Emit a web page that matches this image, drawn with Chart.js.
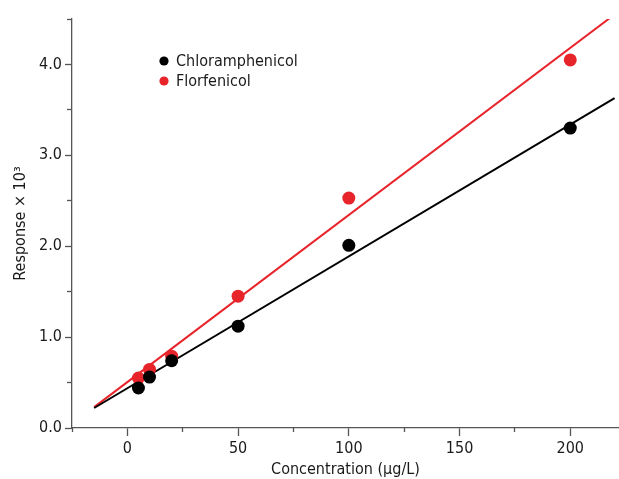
<!DOCTYPE html>
<html>
<head>
<meta charset="utf-8">
<script src="https://cdn.jsdelivr.net/npm/chart.js@4"></script>
<style>
  html, body { margin: 0; padding: 0; background: #fff; }
  #wrap { position: relative; width: 619px; height: 479px; }
</style>
</head>
<body>
<div id="wrap"><canvas id="myChart" width="619" height="479"></canvas></div>
<script>
// concentraciones (µg/L)
var concentrations = [5, 10, 20, 50, 100, 200];
// respuestas (x 10^3)
var chloramphenicol = [0.44, 0.56, 0.74, 1.12, 2.01, 3.30];
var florfenicol = [0.55, 0.645, 0.79, 1.45, 2.53, 4.05];
// extremos de las rectas de calibración
var fitX = [-15, 220];
var chloramphenicolFit = [0.22, 3.63];
var florfenicolFit = [0.23, 4.55];
var seriesNames = ["Chloramphenicol", "Florfenicol"];
var seriesColors = ["#000000", "#e8242b"];

var FONT = "'DejaVu Sans Condensed', 'Liberation Sans', sans-serif";
var TXT = "#1a1a1a";
var FS = 16;

function toPoints(xs, ys) {
  return xs.map(function (x, i) { return { x: x, y: ys[i] }; });
}

// leyenda dentro del área del gráfico
var insideLegend = {
  id: "insideLegend",
  afterDraw: function (chart) {
    var ctx = chart.ctx;
    ctx.save();
    ctx.font = FS + "px " + FONT;
    ctx.textBaseline = "middle";
    seriesNames.forEach(function (name, i) {
      var cy = 61 + i * 20;
      ctx.fillStyle = seriesColors[i];
      ctx.beginPath();
      ctx.arc(164, cy, 4.6, 0, Math.PI * 2);
      ctx.fill();
      ctx.fillStyle = TXT;
      ctx.fillText(name, 176, cy + 1);
    });
    ctx.restore();
  }
};

var ctx = document.getElementById("myChart").getContext("2d");
var myChart = new Chart(ctx, {
  type: "scatter",
  data: {
    datasets: [
      {
        label: seriesNames[0],
        data: toPoints(concentrations, chloramphenicol),
        backgroundColor: seriesColors[0],
        borderColor: seriesColors[0],
        pointRadius: 6.5,
        borderWidth: 0,
        order: 0,
      },
      {
        label: seriesNames[1],
        data: toPoints(concentrations, florfenicol),
        backgroundColor: seriesColors[1],
        borderColor: seriesColors[1],
        pointRadius: 6.5,
        borderWidth: 0,
        order: 0,
      },
      {
        type: "line",
        label: "fit1",
        data: toPoints(fitX, chloramphenicolFit),
        borderColor: seriesColors[0],
        borderWidth: 2,
        pointRadius: 0,
        showLine: true,
        fill: false,
        order: 1,
      },
      {
        type: "line",
        label: "fit2",
        data: toPoints(fitX, florfenicolFit),
        borderColor: seriesColors[1],
        borderWidth: 2,
        pointRadius: 0,
        showLine: true,
        fill: false,
        order: 1,
      },
    ],
  },
  options: {
    responsive: false,
    animation: false,
    layout: { autoPadding: false, padding: { top: 19, right: 0, left: 0, bottom: 0 } },
    scales: {
      x: {
        type: "linear",
        position: "bottom",
        min: -25,
        max: 222,
        weight: 1,
        afterFit: function (s) { s.height = 51; },
        afterBuildTicks: function (s) {
          s.ticks = [0, 50, 100, 150, 200].map(function (v) { return { value: v }; });
        },
        ticks: { color: TXT, font: { family: FONT, size: FS }, padding: 3 },
        grid: { drawOnChartArea: false, tickLength: 8, tickColor: "#555", tickWidth: 1.3 },
        border: { color: "#555", width: 1.3 },
        title: {
          display: true,
          text: "Concentration (µg/L)",
          color: TXT,
          font: { family: FONT, size: FS },
          padding: { top: 0, bottom: 0 },
        },
      },
      x2: {
        type: "linear",
        position: "bottom",
        min: -25,
        max: 222,
        weight: 0,
        afterFit: function (s) { s.height = 0; },
        afterBuildTicks: function (s) {
          s.ticks = [-25, 25, 75, 125, 175].map(function (v) { return { value: v }; });
        },
        ticks: { display: false },
        grid: { drawOnChartArea: false, tickLength: 4, tickColor: "#555", tickWidth: 1.3 },
        border: { display: false },
      },
      y: {
        position: "left",
        min: 0,
        max: 4.5,
        weight: 1,
        afterFit: function (s) { s.width = 72; },
        afterBuildTicks: function (s) {
          s.ticks = [0, 1, 2, 3, 4].map(function (v) { return { value: v }; });
        },
        ticks: {
          color: TXT,
          font: { family: FONT, size: FS },
          padding: 3,
          callback: function (v) { return v.toFixed(1); },
        },
        grid: { drawOnChartArea: false, tickLength: 7, tickColor: "#555", tickWidth: 1.3 },
        border: { color: "#555", width: 1.3 },
        title: {
          display: true,
          text: "Response × 10³",
          color: TXT,
          font: { family: FONT, size: FS },
          padding: { top: 11, bottom: 0 },
        },
      },
      y2: {
        position: "left",
        min: 0,
        max: 4.5,
        weight: 0,
        afterFit: function (s) { s.width = 0; },
        afterBuildTicks: function (s) {
          s.ticks = [0.5, 1.5, 2.5, 3.5, 4.5].map(function (v) { return { value: v }; });
        },
        ticks: { display: false },
        grid: { drawOnChartArea: false, tickLength: 5, tickColor: "#555", tickWidth: 1.3 },
        border: { display: false },
      },
    },
    plugins: {
      legend: { display: false },
      tooltip: { enabled: false },
    },
  },
  plugins: [insideLegend],
});
</script>
</body>
</html>
